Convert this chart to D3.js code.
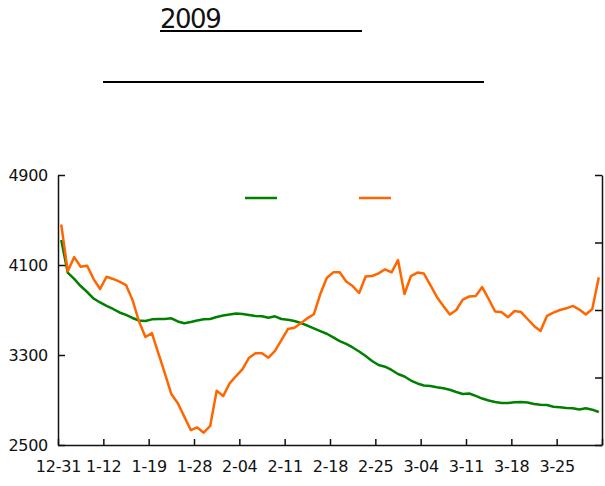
<!DOCTYPE html>
<html>
<head>
<meta charset="utf-8">
<script src="https://cdn.jsdelivr.net/npm/d3@7"></script>
<style>
    body { margin: 0; background: #fff; }
    .chart text { font-family: "DejaVu Sans", sans-serif; fill: #111; }
    .axis path, .axis line { stroke: #111; stroke-width: 1.5px; }
</style>
</head>
<body>
<svg class="chart" width="605" height="486"></svg>
<script>
const tickLabels = ["12-31", "1-12", "1-19", "1-28", "2-04", "2-11", "2-18", "2-25", "3-04", "3-11", "3-18", "3-25"];
const yTicks = [2500, 3300, 4100, 4900];

// green series
const seriesA = [
    4322, 4033, 3976, 3913, 3860, 3802, 3767, 3736, 3709, 3678, 3656, 3629, 3607, 3602,
    3617, 3620, 3620, 3626, 3598, 3582, 3593, 3607, 3617, 3620, 3638, 3651, 3660, 3669,
    3664, 3656, 3647, 3644, 3631, 3644, 3620, 3613, 3602, 3584, 3562, 3537, 3513, 3489,
    3456, 3424, 3398, 3367, 3331, 3291, 3247, 3211, 3196, 3167, 3131, 3109, 3073, 3047,
    3029, 3024, 3013, 3004, 2991, 2971, 2953, 2958, 2936, 2913, 2896, 2882, 2873, 2873,
    2880, 2882, 2878, 2864, 2858, 2856, 2840, 2835, 2829, 2826, 2816, 2826, 2814, 2793
];
// orange series
const seriesB = [
    4460, 4045, 4170, 4085, 4094, 3975, 3887, 3996, 3976, 3953, 3922, 3790, 3600, 3460,
    3495, 3315, 3137, 2953, 2871, 2752, 2633, 2657, 2609, 2669, 2983, 2935, 3048, 3113,
    3175, 3276, 3315, 3315, 3276, 3336, 3433, 3531, 3543, 3582, 3626, 3662, 3842, 3984,
    4035, 4035, 3953, 3913, 3851, 3998, 4002, 4026, 4062, 4035, 4144, 3842, 4002, 4033,
    4024, 3922, 3816, 3736, 3660, 3700, 3793, 3820, 3824, 3904, 3798, 3687, 3680, 3636,
    3691, 3682, 3620, 3558, 3513, 3647, 3676, 3700, 3715, 3736, 3704, 3660, 3709, 3990
];

const margin = { left: 58, top: 175 };
const chart_dimensions = { width: 544, height: 270 };
const svg = d3.select(".chart");

const x = d3.scaleLinear()
    .domain([0, seriesA.length])
    .range([margin.left, margin.left + chart_dimensions.width]);
const y = d3.scaleLinear()
    .domain([2500, 4900])
    .range([margin.top + chart_dimensions.height, margin.top]);

// title (underlined)
svg.append("text")
    .attr("x", 160)
    .attr("y", 28)
    .attr("font-size", "26px")
    .attr("letter-spacing", "-1.5px")
    .text("2009");
svg.append("line")
    .attr("x1", 160).attr("x2", 362)
    .attr("y1", 31).attr("y2", 31)
    .attr("stroke", "#000").attr("stroke-width", 2);
svg.append("line")
    .attr("x1", 103).attr("x2", 484)
    .attr("y1", 82).attr("y2", 82)
    .attr("stroke", "#000").attr("stroke-width", 2);

// axes
svg.append("g")
    .attr("class", "axis")
    .attr("transform", "translate(" + margin.left + ",0)")
    .call(d3.axisLeft(y).tickValues(yTicks).tickSize(-7).tickSizeOuter(0).tickPadding(10).tickFormat(d3.format("d")))
    .call(function(g) {
        g.selectAll("text")
            .attr("font-size", "16px")
            .attr("letter-spacing", "-0.3px")
            .attr("fill", "#111");
    });

svg.append("g")
    .attr("class", "axis")
    .attr("transform", "translate(" + (margin.left + chart_dimensions.width) + ",0)")
    .call(d3.axisRight(y).tickValues([2500, 3100, 3700, 4300, 4900]).tickSize(-7).tickSizeOuter(0).tickFormat(""));

svg.append("g")
    .attr("class", "axis")
    .attr("transform", "translate(0," + (margin.top + chart_dimensions.height) + ")")
    .call(d3.axisBottom(x)
        .tickValues(d3.range(0, seriesA.length + 1, 7))
        .tickSize(-6)
        .tickSizeOuter(0)
        .tickPadding(16)
        .tickFormat(function(d) { return tickLabels[d / 7] || ""; }))
    .call(function(g) {
        g.selectAll("text")
            .attr("font-size", "16px")
            .attr("letter-spacing", "-0.2px")
            .attr("fill", "#111");
    });

// lines
const line = d3.line()
    .x(function(d, i) { return x(i + 0.5); })
    .y(function(d) { return y(d); });

svg.append("path")
    .datum(seriesA)
    .attr("fill", "none")
    .attr("stroke", "#008000")
    .attr("stroke-width", 2.5)
    .attr("stroke-linejoin", "round")
    .attr("d", line);

svg.append("path")
    .datum(seriesB)
    .attr("fill", "none")
    .attr("stroke", "#ff6600")
    .attr("stroke-width", 2.5)
    .attr("stroke-linejoin", "round")
    .attr("d", line);

// legend swatches
const legend = [
    { color: "#008000", x: 245 },
    { color: "#ff6600", x: 359 }
];
svg.selectAll(".legend-line").data(legend)
    .enter()
    .append("line")
    .attr("class", "legend-line")
    .attr("x1", function(d) { return d.x; })
    .attr("x2", function(d) { return d.x + 32; })
    .attr("y1", 198)
    .attr("y2", 198)
    .attr("stroke", function(d) { return d.color; })
    .attr("stroke-width", 2.5);
</script>
</body>
</html>
